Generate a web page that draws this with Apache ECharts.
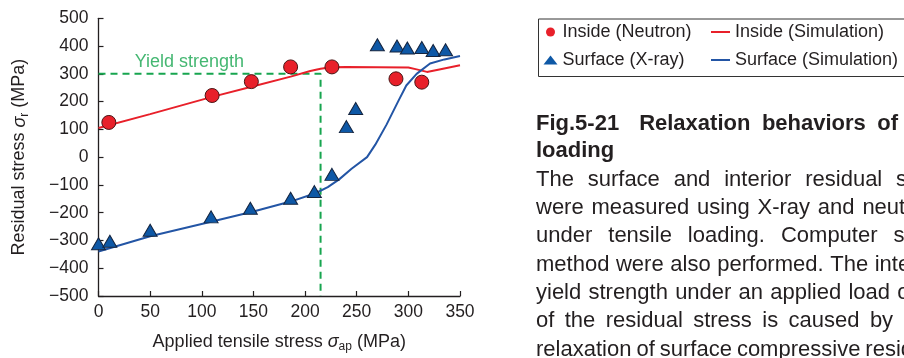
<!DOCTYPE html>
<html>
<head>
<meta charset="utf-8">
<script src="https://cdn.jsdelivr.net/npm/echarts@6/dist/echarts.min.js"></script>
<style>
html,body{margin:0;padding:0;background:#fff;}
#c{width:904px;height:358px;}
</style>
</head>
<body>
<div id="c"></div>
<script>
// ---- data ----
const xTicks = [0, 50, 100, 150, 200, 250, 300, 350];
const yTicks = [-500, -400, -300, -200, -100, 0, 100, 200, 300, 400, 500];

const insideNeutron = [[10,125],[110,222],[148,272],[186,325],[226,325],[288,282],[313,270]];
const surfaceXray = [[0,-312],[11,-303],[50,-263],[109,-215],[147,-184],[186,-148],[209,-124],[226,-62],
                     [240,110],[249,175],[270,405],[289,400],[299,393],[313,395],[324,384],[336,387]];
const insideSim = [[0,105],[50,155],[110,217],[150,255],[186,290],[205,310],[215,318],[225,324],[240,325],
                   [300,323],[308,316],[318,307],[330,316],[350,331]];
const surfaceSim = [[0,-340],[50,-285],[110,-232],[150,-196],[186,-160],[210,-130],[222,-108],[233,-80],
                    [245,-42],[260,0],[268,45],[279,118],[290,200],[298,258],[308,300],[321,337],[335,352],[350,364]];
const yieldStress = 300;
const yieldApplied = 215;
const yieldPath = [[0, yieldStress],[yieldApplied, yieldStress],[yieldApplied, yTicks[0]]];
const yieldLabelPos = [[35, 341]];

const legendCol1 = ['Inside (Neutron)', 'Surface (X-ray)'];
const legendCol2 = ['Inside (Simulation)', 'Surface (Simulation)'];

const captionTitle = [['Fig.5-21', 20], ['Relaxation behaviors of', 11.5]];
const captionTitle2 = 'loading';
const captionBody = [
  ['The surface and interior residual stresses', 13.8],
  ['were measured using X-ray and neutron', 7.8],
  ['under tensile loading. Computer simulations', 16],
  ['method were also performed. The interior', 6.6],
  ['yield strength under an applied load of', 7.2],
  ['of the residual stress is caused by', 10.4],
  ['relaxation of surface compressive residual', 5]
];

// ---- styling ----
const FONT = '"Liberation Sans", Arial, Helvetica, sans-serif';
const TXT = '#231f20';
const RED = '#e8202a';
const BLUE = '#2355a5';
const GREEN = '#17a54f';

function subRich(size) {
  return {
    n: { fontFamily: FONT, fontSize: size, color: TXT, lineHeight: 22 },
    i: { fontFamily: FONT, fontSize: size, color: TXT, fontStyle: 'italic', lineHeight: 22 },
    s: { fontFamily: FONT, fontSize: 12, color: TXT, verticalAlign: 'bottom', lineHeight: 12 }
  };
}

function spacedRich(words) {
  return words.split(' ').join('{g| }');
}

const chart = echarts.init(document.getElementById('c'), null, { renderer: 'canvas' });

const graphics = [];
graphics.push({
  type: 'rect', left: 536, top: 16.5, z: 10, silent: true,
  shape: { width: 420, height: 57.5 },
  style: { fill: 'none', stroke: '#333', lineWidth: 1 }
});
(function () {
  const txt = captionTitle[0][0] + '{g1| }' + spacedRich(captionTitle[1][0]);
  graphics.push({
    type: 'text', left: 536, top: 126 - 13, z: 10,
    style: {
      text: txt, fontFamily: FONT, fontSize: 22, fontWeight: 'bold', fill: TXT,
      rich: {
        g1: { width: captionTitle[0][1], fontSize: 22, fontWeight: 'bold', fontFamily: FONT },
        g: { width: captionTitle[1][1], fontSize: 22, fontWeight: 'bold', fontFamily: FONT }
      }
    }
  });
  graphics.push({
    type: 'text', left: 536, top: 153 - 13, z: 10,
    style: { text: captionTitle2, fontFamily: FONT, fontSize: 22, fontWeight: 'bold', fill: TXT }
  });
})();
const bodyCenters = [181.7, 210, 238.3, 266.7, 295, 323.3, 351.7];
captionBody.forEach(function (ln, k) {
  graphics.push({
    type: 'text', left: 536, top: bodyCenters[k] - 13, z: 10,
    style: {
      text: spacedRich(ln[0]), fontFamily: FONT, fontSize: 22, fill: TXT,
      rich: { g: { width: ln[1], fontSize: 22, fontFamily: FONT } }
    }
  });
});

const option = {
  backgroundColor: '#ffffff',
  animation: false,
  textStyle: { fontFamily: FONT },
  grid: { left: 98.5, right: 444, top: 18.3, bottom: 57.5, containLabel: false },
  xAxis: {
    type: 'value',
    min: xTicks[0], max: xTicks[xTicks.length - 1], interval: xTicks[1] - xTicks[0],
    splitLine: { show: false },
    axisLine: { show: true, onZero: false, lineStyle: { color: TXT, width: 1.3 } },
    axisTick: { show: true, inside: true, length: 5, lineStyle: { color: TXT, width: 1.2 } },
    axisLabel: { margin: 7, fontSize: 17.5, color: TXT, fontFamily: FONT },
    name: '{n|Applied tensile stress }{i|σ}{s|ap}{n| (MPa)}',
    nameLocation: 'middle', nameGap: 35,
    nameTextStyle: { fontSize: 18, color: TXT, fontFamily: FONT, lineHeight: 22, rich: subRich(18) }
  },
  yAxis: {
    type: 'value',
    min: yTicks[0], max: yTicks[yTicks.length - 1], interval: yTicks[1] - yTicks[0],
    splitLine: { show: false },
    axisLine: { show: true, onZero: false, lineStyle: { color: TXT, width: 1.3 } },
    axisTick: { show: true, inside: true, length: 5, lineStyle: { color: TXT, width: 1.2 } },
    axisLabel: {
      margin: 10, fontSize: 17.5, color: TXT, fontFamily: FONT,
      formatter: function (v) { return String(v).replace('-', '\u2212'); }
    },
    name: '{n|Residual stress }{i|σ}{s|r}{n| (MPa)}',
    nameLocation: 'middle', nameGap: 68,
    nameTextStyle: { fontSize: 18, color: TXT, fontFamily: FONT, lineHeight: 22, rich: subRich(18) }
  },
  legend: [
    {
      orient: 'vertical', left: 543.5, top: 23, padding: 0, itemGap: 10,
      itemWidth: 14, itemHeight: 9,
      textStyle: { fontSize: 18, color: TXT, fontFamily: FONT },
      data: [
        { name: legendCol1[0], icon: 'circle', itemStyle: { color: RED, borderWidth: 0 } },
        { name: legendCol1[1], icon: 'triangle', itemStyle: { color: '#0e58a6', borderWidth: 0 } }
      ]
    },
    {
      orient: 'vertical', left: 711, top: 23, padding: 0, itemGap: 10,
      itemWidth: 19, itemHeight: 2,
      textStyle: { fontSize: 18, color: TXT, fontFamily: FONT },
      data: [
        { name: legendCol2[0], icon: 'rect', itemStyle: { color: RED } },
        { name: legendCol2[1], icon: 'rect', itemStyle: { color: BLUE } }
      ]
    }
  ],
  graphic: graphics,
  series: [
    {
      name: 'yield', type: 'line', data: yieldPath, symbol: 'none', z: 1,
      lineStyle: { color: GREEN, width: 2, type: [7, 5] }, silent: true
    },
    {
      name: 'yieldLabel', type: 'scatter', data: yieldLabelPos, symbolSize: 0.1, z: 4,
      itemStyle: { color: 'rgba(0,0,0,0)' }, silent: true,
      label: { show: true, position: 'right', distance: 0, formatter: 'Yield strength',
               fontSize: 18, color: GREEN, fontFamily: FONT }
    },
    {
      name: legendCol2[0], type: 'line', data: insideSim, symbol: 'none', z: 2,
      lineStyle: { color: RED, width: 2 }, itemStyle: { color: RED }
    },
    {
      name: legendCol2[1], type: 'line', data: surfaceSim, symbol: 'none', z: 2,
      lineStyle: { color: BLUE, width: 2 }, itemStyle: { color: BLUE }
    },
    {
      name: legendCol1[0], type: 'scatter', data: insideNeutron, symbol: 'circle', symbolSize: 14, z: 3, clip: false,
      itemStyle: { color: RED, borderColor: '#4a1414', borderWidth: 1, opacity: 1 }
    },
    {
      name: legendCol1[1], type: 'scatter', data: surfaceXray, symbol: 'triangle', symbolSize: [14, 12], z: 3, clip: false,
      itemStyle: { color: '#0e58a6', borderColor: '#14243f', borderWidth: 1, opacity: 1 }
    }
  ]
};
chart.setOption(option);
</script>
</body>
</html>
